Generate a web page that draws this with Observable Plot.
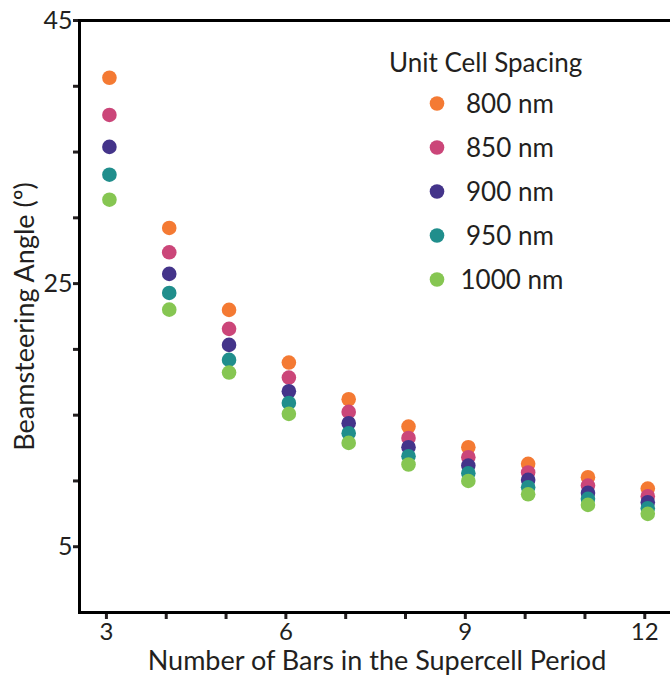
<!DOCTYPE html>
<html>
<head>
<meta charset="utf-8">
<script src="https://cdn.jsdelivr.net/npm/d3@7"></script>
<script src="https://cdn.jsdelivr.net/npm/@observablehq/plot@0.6"></script>
<style>
  html, body { margin: 0; padding: 0; background: #fff; }
  #chart svg { display: block; }
</style>
</head>
<body>
<div id="chart"></div>
<script>
// ---- data ----
const bars = [3, 4, 5, 6, 7, 8, 9, 10, 11, 12];
const spacings = ["800 nm", "850 nm", "900 nm", "950 nm", "1000 nm"];
const angle800  = [40.65, 29.23, 23.00, 19.00, 16.21, 14.13, 12.56, 11.30, 10.28, 9.42];
const angle850  = [37.82, 27.38, 21.56, 17.86, 15.25, 13.27, 11.80, 10.64, 9.65, 8.84];
const angle900  = [35.39, 25.74, 20.34, 16.82, 14.39, 12.56, 11.17, 10.08, 9.09, 8.38];
const angle950  = [33.28, 24.29, 19.20, 15.93, 13.63, 11.88, 10.59, 9.52, 8.64, 7.93];
const angle1000 = [31.38, 23.02, 18.24, 15.10, 12.89, 11.25, 10.00, 8.99, 8.18, 7.50];
const colors = ["#f47a33", "#cb4679", "#44348a", "#208e8c", "#86c652"];
const yTicks = [5, 10, 15, 20, 25, 30, 35, 40, 45];
const yLabels = [5, 25, 45];
const xTicks = [3, 4, 5, 6, 7, 8, 9, 10, 11, 12];
const xLabels = [3, 6, 9, 12];
const xTitle = "Number of Bars in the Supercell Period";
const yTitle = "Beamsteering Angle (º)";
const legendTitle = "Unit Cell Spacing";

const series = [angle800, angle850, angle900, angle950, angle1000];
const data = [];
series.forEach((vals, s) => vals.forEach((v, i) => data.push({bars: bars[i], angle: v, spacing: spacings[s]})));

const font = "Lato, 'Open Sans', sans-serif";
const ink = "#231f20";

const plot = Plot.plot({
  width: 670,
  height: 677,
  marginLeft: 79,
  marginRight: 0,
  marginTop: 20,
  marginBottom: 65,
  style: {fontFamily: font, fontSize: "25px", color: ink, background: "#fff"},
  x: {domain: [2.55, 12.43]},
  y: {domain: [0, 45]},
  color: {domain: spacings, range: colors},
  marks: [
    Plot.axisY(yTicks, {tickSize: 6, tickPadding: 1, strokeWidth: 3, stroke: ink, fill: ink,
      tickFormat: d => yLabels.includes(d) ? String(d) : "", label: null, fontSize: 25}),
    Plot.axisX(xTicks, {tickSize: 7, tickPadding: 3, strokeWidth: 3, stroke: ink, fill: ink,
      tickFormat: d => xLabels.includes(d) ? String(d) : "", label: null, fontSize: 24}),
    Plot.frame({anchor: "left", strokeWidth: 3, stroke: "#000"}),
    Plot.frame({anchor: "bottom", strokeWidth: 3, stroke: "#000"}),
    Plot.frame({anchor: "top", strokeWidth: 3, stroke: "#000"}),
    Plot.dot(data, {x: "bars", y: "angle", fill: "spacing", r: 7.3, dx: 3}),
    Plot.text([xTitle], {frameAnchor: "bottom", text: d => d, dy: 49, dx: 2, fontSize: 27,
      fill: ink, textAnchor: "middle", lineAnchor: "middle"}),
    Plot.text([yTitle], {frameAnchor: "left", text: d => d, rotate: -90, dx: -54, fontSize: 27,
      fill: ink, textAnchor: "middle", lineAnchor: "middle"})
  ]
});

// legend drawn inside the plot area using the plot's own color scale
const color = plot.scale("color");
const svg = d3.select(plot);
const lg = svg.append("g").attr("font-family", font).attr("fill", ink).attr("text-anchor", "start");
lg.append("text").attr("x", 389).attr("y", 72).attr("font-size", 26).text(legendTitle);
const row = lg.selectAll("g.row").data(color.domain).join("g")
  .attr("transform", (d, i) => `translate(437, ${103.5 + i * 44})`);
row.append("circle").attr("r", 7.3).attr("fill", (d, i) => color.range[i]);
row.append("text").attr("x", (d) => d.length > 6 ? 23.5 : 29).attr("dy", "0.36em")
  .attr("font-size", 26).text(d => d);

document.getElementById("chart").appendChild(plot);
</script>
</body>
</html>
